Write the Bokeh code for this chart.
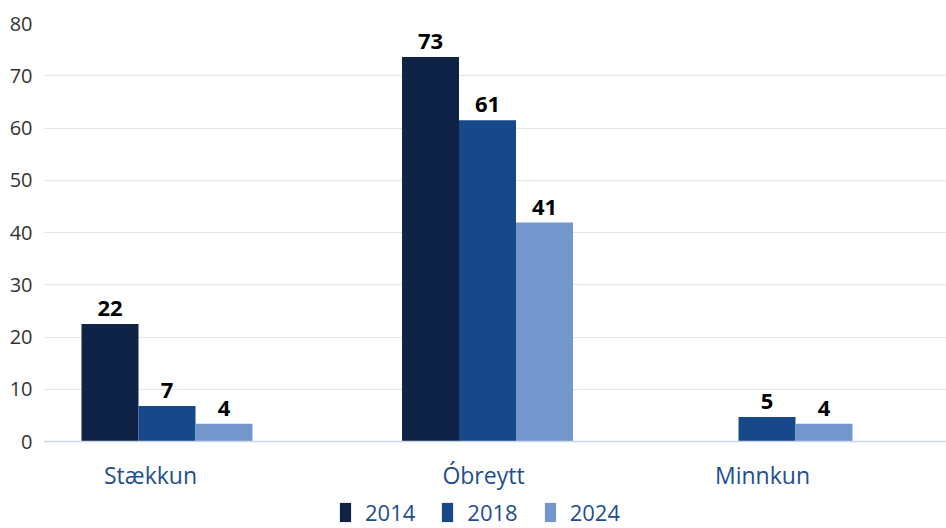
from bokeh.plotting import figure
from bokeh.models import (ColumnDataSource, Range1d, FixedTicker, LabelSet,
                          Legend, LegendItem, Span)
from bokeh.core.properties import value
from bokeh.embed import file_html
from bokeh.resources import INLINE

# ---- data ----
categories = ["Stækkun", "Óbreytt", "Minnkun"]
years = ["2014", "2018", "2024"]
values_2014 = [22.5, 73.6, None]
values_2018 = [6.8, 61.5, 4.7]
values_2024 = [3.4, 41.9, 3.4]
labels_2014 = ["22", "73", ""]
labels_2018 = ["7", "61", "5"]
labels_2024 = ["4", "41", "4"]
y_ticks = [0, 10, 20, 30, 40, 50, 60, 70, 80]

# ---- layout ----
group_x = [123.5, 444.0, 723.5]
label_x = [107.0, 440.0, 719.0]
bar_w = 57
colors = ["#0f2346", "#16488a", "#7396cc"]
FONT = "Open Sans"
PLOT_H = 418          # px between 0 and 80
BELOW_H = 87          # px below the zero line (category labels + legend)
y_min = -BELOW_H * 80 / PLOT_H

p = figure(frame_width=903, frame_height=PLOT_H + BELOW_H,
           x_range=Range1d(0, 903), y_range=Range1d(y_min, 80),
           output_backend="svg", toolbar_location=None,
           min_border_left=43, min_border_right=0,
           min_border_top=23, min_border_bottom=0)
p.outline_line_color = None
p.background_fill_color = "white"

series = [values_2014, values_2018, values_2024]
series_labels = [labels_2014, labels_2018, labels_2024]
renderers = []
for j, (vals, labs) in enumerate(zip(series, series_labels)):
    xs, tops, texts = [], [], []
    for i, v in enumerate(vals):
        if v is None:
            continue
        xs.append(group_x[i] + (j - 1) * bar_w)
        tops.append(v)
        texts.append(labs[i])
    src = ColumnDataSource(dict(x=xs, top=tops, text=texts))
    r = p.vbar(x="x", top="top", bottom=0, width=bar_w, source=src,
               fill_color=colors[j], line_color=None)
    renderers.append(r)
    p.add_layout(LabelSet(x="x", y="top", text="text", source=src,
                          y_offset=8, text_align="center",
                          text_baseline="alphabetic",
                          text_font=value(FONT), text_font_style="bold",
                          text_font_size="22px", text_color="#000000"))

# zero line (x axis line)
p.add_layout(Span(location=0, dimension="width", line_color="#ccd6eb",
                  line_width=1.5))

# category labels
cat_src = ColumnDataSource(dict(x=label_x, y=[0] * len(label_x), text=categories))
p.add_layout(LabelSet(x="x", y="y", text="text", source=cat_src,
                      y_offset=-42, text_align="center",
                      text_baseline="alphabetic",
                      text_font=value(FONT), text_font_size="23px",
                      text_color="#1f4e8f"))

# y axis
p.yaxis.ticker = FixedTicker(ticks=y_ticks)
p.yaxis.axis_line_color = None
p.yaxis.major_tick_line_color = None
p.yaxis.minor_tick_line_color = None
p.yaxis.major_tick_out = 0
p.yaxis.major_tick_in = 0
p.yaxis.major_label_standoff = 11
p.yaxis.major_label_text_font = FONT
p.yaxis.major_label_text_font_size = "20px"
p.yaxis.major_label_text_color = "#333333"
p.ygrid.grid_line_color = "#e6e6e6"
p.ygrid.ticker = FixedTicker(ticks=y_ticks)

p.xaxis.visible = False
p.xgrid.grid_line_color = None

legend = Legend(items=[LegendItem(label=y, renderers=[r]) for y, r in zip(years, renderers)],
                orientation="horizontal", location=(295, 1),
                glyph_width=14, glyph_height=24, label_standoff=13,
                spacing=25, padding=0, margin=0,
                border_line_color=None, background_fill_alpha=0,
                label_text_font=FONT, label_text_font_size="22px",
                label_text_color="#1f4e8f", label_text_baseline="middle")
p.add_layout(legend)

open("out.html", "w").write(file_html(p, INLINE))
